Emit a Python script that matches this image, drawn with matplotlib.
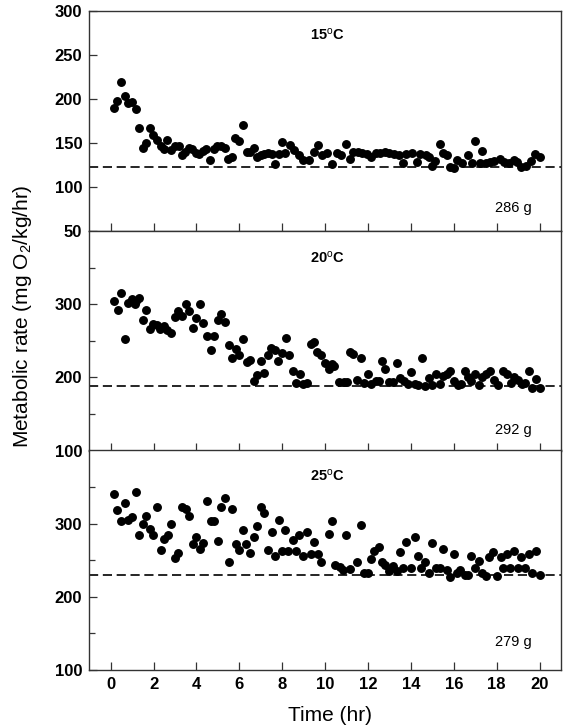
import matplotlib
matplotlib.use("Agg")
import matplotlib.pyplot as plt

plt.rcParams['font.family'] = ['Liberation Sans', 'DejaVu Sans']
plt.rcParams['mathtext.fontset'] = 'custom'
plt.rcParams['mathtext.rm'] = 'Liberation Sans'
plt.rcParams['mathtext.it'] = 'Liberation Sans:italic'
plt.rcParams['mathtext.bf'] = 'Liberation Sans:bold'

# 15 C, 286 g
t15 = [0.16, 0.31, 0.50, 0.67, 0.82, 1.00, 1.16, 1.34, 1.49, 1.66, 1.83, 1.99,
       2.17, 2.34, 2.50, 2.64, 2.83, 2.98, 3.17, 3.31, 3.46, 3.65, 3.80, 3.96,
       4.13, 4.30, 4.46, 4.64, 4.81, 4.97, 5.14, 5.31, 5.48, 5.65, 5.81, 6.00,
       6.16, 6.34, 6.49, 6.68, 6.83, 7.00, 7.17, 7.34, 7.52, 7.67, 7.84, 8.00,
       8.15, 8.36, 8.54, 8.78, 8.98, 9.24, 9.48, 9.66, 9.86, 10.10, 10.33, 10.53,
       10.75, 10.98, 11.18, 11.31, 11.53, 11.73, 11.93, 12.14, 12.35, 12.55, 12.77, 12.97,
       13.20, 13.43, 13.64, 13.79, 14.06, 14.29, 14.44, 14.68, 14.83, 14.99, 15.10, 15.35,
       15.50, 15.66, 15.81, 16.00, 16.15, 16.39, 16.65, 16.85, 17.01, 17.21, 17.32, 17.48,
       17.68, 17.89, 18.14, 18.33, 18.56, 18.79, 18.95, 19.13, 19.38, 19.60, 19.80, 20.00]
rate15 = [190, 198, 219, 203, 195, 196, 188, 167, 144, 150, 167, 159,
          153, 146, 143, 153, 142, 146, 146, 136, 140, 144, 143, 139,
          137, 141, 143, 130, 143, 146, 146, 144, 132, 134, 155, 152,
          170, 140, 140, 144, 134, 136, 137, 139, 137, 126, 137, 151,
          138, 148, 142, 136, 131, 131, 140, 147, 136, 139, 126, 138,
          136, 149, 132, 140, 140, 138, 137, 134, 138, 138, 140, 138,
          137, 136, 127, 137, 138, 128, 137, 136, 134, 124, 129, 149,
          139, 136, 123, 121, 130, 127, 136, 127, 152, 127, 141, 127,
          128, 129, 132, 128, 127, 131, 128, 123, 124, 129, 137, 134]

# 20 C, 292 g
t20 = [0.16, 0.34, 0.50, 0.67, 0.82, 0.98, 1.13, 1.16, 1.34, 1.49, 1.66, 1.83,
       1.99, 2.14, 2.30, 2.48, 2.64, 2.83, 2.98, 3.15, 3.31, 3.49, 3.66, 3.82,
       3.99, 4.16, 4.32, 4.47, 4.66, 4.81, 4.98, 5.16, 5.34, 5.50, 5.65, 5.82,
       5.99, 6.18, 6.34, 6.49, 6.66, 6.82, 6.99, 7.17, 7.33, 7.48, 7.67, 7.81,
       8.00, 8.17, 8.32, 8.48, 8.66, 8.82, 8.98, 9.13, 9.32, 9.48, 9.63, 9.82,
       9.97, 10.17, 10.33, 10.41, 10.64, 10.87, 11.03, 11.15, 11.31, 11.50, 11.65, 11.81,
       11.99, 12.15, 12.35, 12.52, 12.66, 12.81, 12.97, 13.17, 13.33, 13.48, 13.67, 13.85,
       14.01, 14.17, 14.32, 14.51, 14.65, 14.83, 14.99, 15.16, 15.35, 15.50, 15.69, 15.84,
       16.00, 16.19, 16.34, 16.50, 16.65, 16.81, 17.01, 17.16, 17.32, 17.52, 17.68, 17.86,
       18.05, 18.30, 18.48, 18.67, 18.82, 18.98, 19.18, 19.34, 19.49, 19.65, 19.84, 20.00]
rate20 = [304, 292, 315, 252, 302, 307, 300, 304, 309, 279, 292, 266,
          273, 272, 266, 270, 265, 261, 282, 290, 284, 300, 290, 267,
          281, 300, 274, 257, 237, 257, 278, 287, 275, 244, 226, 239,
          231, 253, 221, 224, 195, 203, 222, 206, 231, 240, 238, 222,
          233, 254, 230, 209, 192, 205, 191, 192, 246, 248, 234, 231,
          219, 211, 218, 215, 193, 193, 193, 234, 232, 197, 226, 192,
          205, 191, 195, 195, 222, 211, 194, 194, 220, 199, 195, 191,
          207, 191, 190, 227, 188, 199, 190, 205, 191, 202, 205, 209,
          195, 189, 191, 209, 201, 195, 205, 190, 201, 205, 209, 196,
          190, 209, 205, 192, 200, 196, 191, 192, 209, 186, 198, 186]

# 25 C, 279 g
t25 = [0.16, 0.31, 0.50, 0.67, 0.82, 1.00, 1.16, 1.34, 1.49, 1.66, 1.83, 1.99,
       2.14, 2.33, 2.48, 2.67, 2.83, 2.98, 3.15, 3.31, 3.49, 3.66, 3.82, 3.99,
       4.15, 4.32, 4.50, 4.66, 4.81, 4.98, 5.16, 5.33, 5.50, 5.65, 5.82, 5.99,
       6.16, 6.32, 6.49, 6.66, 6.83, 6.99, 7.16, 7.33, 7.50, 7.67, 7.83, 8.00,
       8.15, 8.26, 8.48, 8.62, 8.80, 8.98, 9.17, 9.32, 9.48, 9.66, 9.82, 10.17,
       10.33, 10.48, 10.68, 10.84, 10.99, 11.15, 11.50, 11.65, 11.81, 11.99, 12.15, 12.30,
       12.50, 12.66, 12.81, 12.97, 13.17, 13.33, 13.48, 13.64, 13.79, 13.98, 14.17, 14.33,
       14.48, 14.66, 14.84, 14.99, 15.15, 15.35, 15.50, 15.66, 15.84, 16.00, 16.15, 16.31,
       16.50, 16.65, 16.81, 17.01, 17.17, 17.32, 17.48, 17.63, 17.83, 18.03, 18.18, 18.30,
       18.48, 18.64, 18.82, 18.98, 19.13, 19.34, 19.49, 19.65, 19.84, 20.00]
rate25 = [340, 319, 303, 328, 305, 309, 343, 284, 300, 310, 292, 285,
          323, 264, 279, 285, 300, 253, 260, 323, 320, 310, 272, 282,
          265, 274, 331, 303, 303, 276, 323, 335, 247, 320, 272, 264,
          291, 272, 260, 282, 297, 323, 315, 264, 288, 256, 305, 263,
          291, 262, 278, 262, 285, 256, 289, 258, 275, 258, 248, 286,
          303, 244, 241, 237, 284, 238, 247, 298, 232, 232, 252, 263,
          268, 247, 244, 235, 242, 235, 261, 240, 275, 239, 282, 256,
          239, 247, 232, 273, 240, 239, 265, 236, 227, 258, 232, 236,
          230, 230, 256, 239, 249, 233, 229, 254, 261, 229, 254, 239,
          258, 239, 263, 239, 254, 239, 258, 232, 263, 230]

panels = [
    (t15, rate15, 123, (50, 300), "15", "286 g"),
    (t20, rate20, 188, (100, 400), "20", "292 g"),
    (t25, rate25, 230, (100, 400), "25", "279 g"),
]
temp_text_y = [273, 363, 365]
mass_text_y = [76, 128, 138]

fig = plt.figure(figsize=(5.65, 7.27), dpi=100)
left, width, height = 0.158, 0.835, 0.302
bottoms = [0.6827, 0.3803, 0.0784]

for i, (t, rate, base, ylim, temp, mass) in enumerate(panels):
    ax = fig.add_axes([left, bottoms[i], width, height])
    ax.plot(t, rate, 'o', color='black', ms=5.4, mec='black', zorder=3)
    ax.axhline(base, color='black', lw=1.2, dashes=(5.5, 2.8), zorder=2)
    ax.set_xlim(-1, 21)
    ax.set_ylim(*ylim)
    ax.set_xticks(range(0, 21, 2))
    if i == 0:
        ax.set_yticks(range(50, 301, 50))
    else:
        ax.set_yticks([100, 200, 300])
        ax.set_yticks([150, 250, 350], minor=True)
    for s in ax.spines.values():
        s.set_color('#333333')
        s.set_linewidth(1.0)
    ax.tick_params(axis='both', which='major', direction='in', length=6,
                   width=0.9, color='#333333', labelsize=12, pad=5)
    ax.tick_params(axis='y', which='minor', direction='in', length=4,
                   width=0.9, color='#333333')
    for lab in ax.get_xticklabels() + ax.get_yticklabels():
        lab.set_fontweight('bold')
    if i < 2:
        ax.tick_params(axis='x', labelbottom=False)
    ax.text(9.3, temp_text_y[i],
            r"$\mathbf{" + temp + r"}^{\mathrm{o}}\mathbf{C}$",
            fontsize=10.5, ha='left', va='center')
    ax.text(17.9, mass_text_y[i], mass, fontsize=10.5, ha='left', va='center')

fig.text(0.039, 0.565, r"Metabolic rate (mg O$_2$/kg/hr)", rotation=90,
         ha='center', va='center', fontsize=15)
fig.text(0.584, 0.016, "Time (hr)", ha='center', va='center', fontsize=15)

fig.savefig('out.png', dpi=100)
plt.close(fig)
